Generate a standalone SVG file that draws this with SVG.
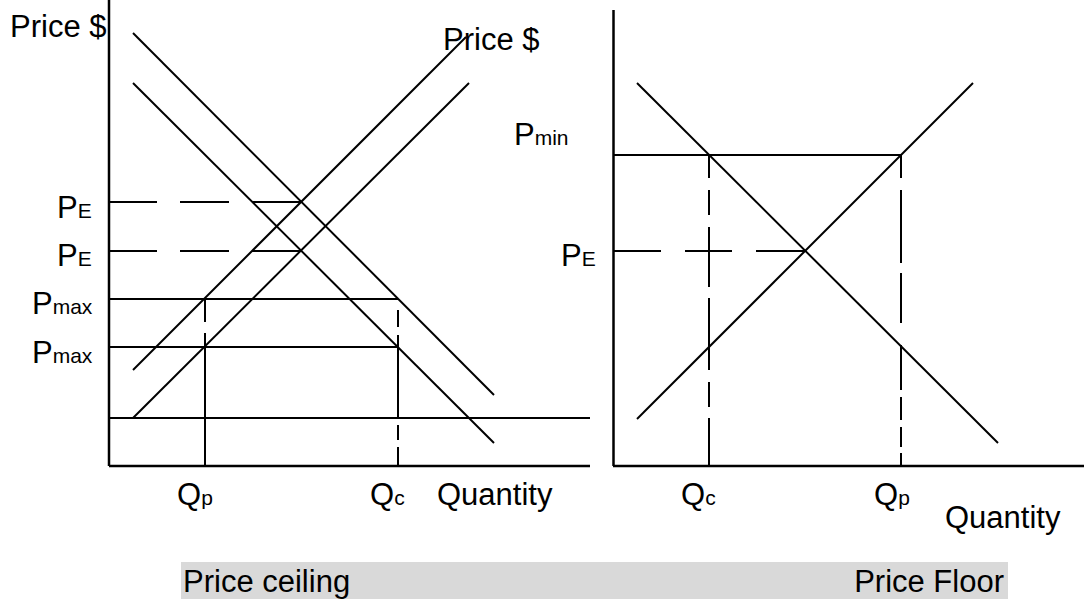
<svg xmlns="http://www.w3.org/2000/svg" width="1084" height="599" viewBox="0 0 1084 599">
<style>
.ln{stroke:#000;stroke-width:2;fill:none}
.ax{stroke:#000;stroke-width:2.5;fill:none}
text{font-family:"Liberation Sans",Arial,sans-serif;font-size:31px;fill:#000}
.sub{font-size:21px}
</style>
<rect id="caption-band" x="181" y="562" width="827" height="37" fill="#d9d9d9"/>
<g id="ceiling-chart">
  <g id="ceiling-axes">
    <line class="ax" x1="109" y1="0" x2="109" y2="466"/>
    <line class="ax" x1="109" y1="466" x2="590" y2="466"/>
  </g>
  <g id="ceiling-curves">
    <line class="ln" x1="133" y1="33" x2="494" y2="395"/>
    <line class="ln" x1="133" y1="83" x2="494" y2="443"/>
    <line class="ln" x1="133" y1="370" x2="466" y2="37"/>
    <line class="ln" x1="133" y1="418" x2="469" y2="83"/>
  </g>
  <g id="ceiling-guides">
    <path class="ln" d="M109 202H157M180 202H229M252 202H301"/>
    <path class="ln" d="M109 251H157M180 251H229M252 251H301"/>
    <line class="ln" x1="109" y1="299" x2="398" y2="299"/>
    <line class="ln" x1="109" y1="347" x2="397" y2="347"/>
    <line class="ln" x1="109" y1="418" x2="590" y2="418"/>
    <path class="ln" d="M205 299V322M205 333V466"/>
    <path class="ln" d="M398 310V327M398 335V418M398 425V440M398 447V466"/>
  </g>
  <g id="ceiling-labels">
    <text x="10" y="37">Price $</text>
    <text x="443" y="50">Price $</text>
    <text x="57" y="218">P<tspan class="sub">E</tspan></text>
    <text x="57" y="266">P<tspan class="sub">E</tspan></text>
    <text x="32" y="314">P<tspan class="sub">max</tspan></text>
    <text x="32" y="363">P<tspan class="sub">max</tspan></text>
    <text x="177" y="505">Q<tspan class="sub">p</tspan></text>
    <text x="370" y="505">Q<tspan class="sub">c</tspan></text>
    <text x="437" y="505">Quantity</text>
  </g>
</g>
<g id="floor-chart">
  <g id="floor-axes">
    <line class="ax" x1="613.5" y1="10" x2="613.5" y2="466"/>
    <line class="ax" x1="613" y1="466" x2="1084" y2="466"/>
  </g>
  <g id="floor-curves">
    <line class="ln" x1="637" y1="83" x2="998" y2="443"/>
    <line class="ln" x1="637" y1="419" x2="973" y2="83"/>
  </g>
  <g id="floor-guides">
    <line class="ln" x1="613" y1="155" x2="901" y2="155"/>
    <path class="ln" d="M613 251H661M685 251H732M756 251H805"/>
    <path class="ln" d="M709 155V178M709 190V215M709 227V287M709 298V370M709 382V407M709 418V466"/>
    <path class="ln" d="M901 155V178M901 190V263M901 273V323M901 345V390M901 397V420M901 427V447M901 453V466"/>
  </g>
  <g id="floor-labels">
    <text x="514" y="145">P<tspan class="sub">min</tspan></text>
    <text x="561" y="266">P<tspan class="sub">E</tspan></text>
    <text x="681" y="505">Q<tspan class="sub">c</tspan></text>
    <text x="874" y="505">Q<tspan class="sub">p</tspan></text>
    <text x="945" y="528">Quantity</text>
  </g>
</g>
<g id="captions">
  <text x="183" y="592">Price ceiling</text>
  <text x="1004" y="592" text-anchor="end">Price Floor</text>
</g>
</svg>
